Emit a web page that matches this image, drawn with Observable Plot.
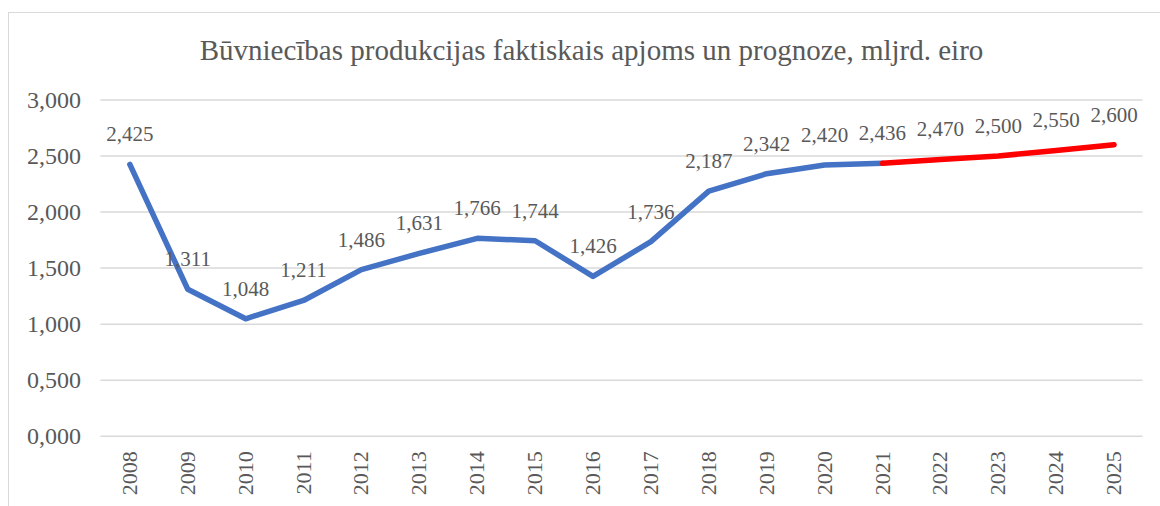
<!DOCTYPE html>
<html>
<head>
<meta charset="utf-8">
<script src="https://cdn.jsdelivr.net/npm/d3@7"></script>
<script src="https://cdn.jsdelivr.net/npm/@observablehq/plot@0.6"></script>
<style>
  html, body { margin: 0; padding: 0; background: #ffffff; }
  #frame { position: absolute; left: 8px; top: 12px; width: 1160px; height: 500px;
           border-left: 1px solid #d9d9d9; border-top: 1px solid #d9d9d9; }
  #wrap { position: absolute; left: 0; top: 0; width: 1160px; }
  #title { box-sizing: border-box; height: 70px; padding-top: 32.5px; padding-left: 23px;
           font-family: "Liberation Serif", "Times New Roman", serif; font-size: 29px;
           line-height: 34px; color: #595959; text-align: center; white-space: nowrap; }
</style>
</head>
<body>
<div id="frame"></div>
<div id="wrap">
  <div id="title">Būvniecības produkcijas faktiskais apjoms un prognoze, mljrd. eiro</div>
  <div id="chart"></div>
</div>
<script>
// ---- data ----
const years = ["2008","2009","2010","2011","2012","2013","2014","2015","2016","2017","2018","2019","2020","2021","2022","2023","2024","2025"];
const values = [2.425, 1.311, 1.048, 1.211, 1.486, 1.631, 1.766, 1.744, 1.426, 1.736, 2.187, 2.342, 2.420, 2.436, 2.470, 2.500, 2.550, 2.600];
const actualYears = ["2008","2009","2010","2011","2012","2013","2014","2015","2016","2017","2018","2019","2020","2021"];
const forecastYears = ["2021","2022","2023","2024","2025"];
const yTicks = [0, 0.5, 1, 1.5, 2, 2.5, 3];

const rows = years.map((year, i) => ({year, value: values[i]}));
const actual = rows.filter(d => actualYears.includes(d.year));
const forecast = rows.filter(d => forecastYears.includes(d.year));

const lv = d3.formatLocale({decimal: ",", thousands: "\u00a0", grouping: [3], currency: ["", " €"]});
const fmt = lv.format(".3f");

const chart = Plot.plot({
  width: 1160,
  height: 436,
  marginTop: 29.5,
  marginBottom: 70.3,
  marginLeft: 100.4,
  marginRight: 17.5,
  style: {fontFamily: "'Liberation Serif', 'Times New Roman', serif", color: "#595959", background: "transparent", overflow: "visible"},
  x: {type: "point", domain: years, padding: 0.5, align: 0.5, round: false},
  y: {domain: [0, 3]},
  marks: [
    Plot.ruleY(yTicks, {stroke: "#d9d9d9", strokeWidth: 1.5}),
    Plot.axisY({ticks: yTicks, tickSize: 0, tickPadding: 20, tickFormat: fmt, fontSize: 24, fill: "#595959", label: null}),
    Plot.axisX({tickRotate: -90, tickSize: 0, tickPadding: 15, fontSize: 22, fill: "#595959", label: null}),
    Plot.line(actual, {x: "year", y: "value", stroke: "#4472C4", strokeWidth: 5.5, strokeLinecap: "round", strokeLinejoin: "round"}),
    Plot.line(forecast, {x: "year", y: "value", stroke: "#ff0000", strokeWidth: 5.5, strokeLinecap: "round", strokeLinejoin: "round"}),
    Plot.text(rows, {x: "year", y: "value", text: d => fmt(d.value), dy: -23, lineAnchor: "bottom", fontSize: 21, fill: "#595959"})
  ]
});
document.getElementById("chart").appendChild(chart);
</script>
</body>
</html>
